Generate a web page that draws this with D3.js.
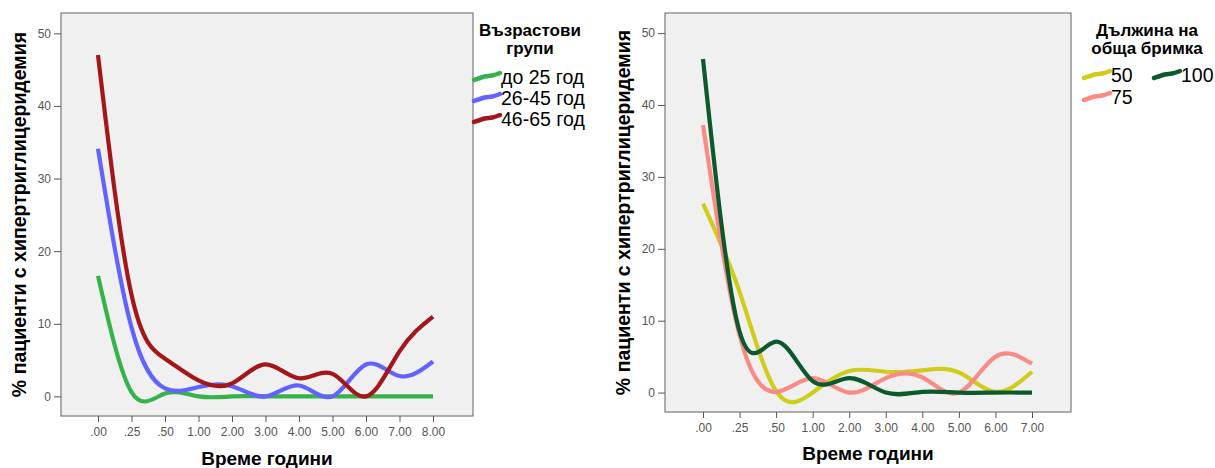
<!DOCTYPE html>
<html>
<head>
<meta charset="utf-8">
<script src="https://cdn.jsdelivr.net/npm/d3@7"></script>
<style>
  html, body { margin: 0; padding: 0; background: #ffffff; }
  svg { display: block; font-family: "Liberation Sans", Arial, sans-serif; }
</style>
</head>
<body>
<svg id="chart" width="1215" height="468"></svg>
<script>
// ---------- DATA ----------
const ageCategories = [".00", ".25", ".50", "1.00", "2.00", "3.00", "4.00", "5.00", "6.00", "7.00", "8.00"];
const ageGroupNames = ["до 25 год", "26-45 год", "46-65 год"];
const ageUpTo25  = [16.6, 0.6, 0.4, 0.0, 0.0, 0.0, 0.0, 0.0, 0.0, 0.0, 0.0];
const age26to45  = [34.1, 9.5, 1.1, 1.3, 1.4, 0.0, 1.5, 0.0, 4.4, 2.8, 4.8];
const age46to65  = [47.0, 14.0, 5.2, 2.2, 1.8, 4.4, 2.5, 3.1, 0.0, 6.2, 11.0];

const lengthCategories = [".00", ".25", ".50", "1.00", "2.00", "3.00", "4.00", "5.00", "6.00", "7.00"];
const lengthGroupNames = ["50", "75", "100"];
const length50  = [26.3, 14.0, 0.2, 0.0, 3.0, 2.9, 3.1, 2.8, 0.1, 2.9];
const length75  = [37.2, 8.0, 0.1, 2.0, 0.0, 2.0, 2.1, 0.0, 5.0, 4.0];
const length100 = [46.4, 8.5, 7.1, 1.6, 2.0, 0.0, 0.1, 0.0, 0.0, 0.0];

const yTicks = [0, 10, 20, 30, 40, 50];
const yTitle = "% пациенти с хипертриглицеридемия";
const xTitle = "Време години";
const ageLegendTitle = ["Възрастови", "групи"];
const lengthLegendTitle = ["Дължина на", "обща бримка"];

// ---------- STYLE ----------
const ageColors = ["#35b34a", "#6262ff", "#a3171b"];
const lengthColors = ["#d0cc1c", "#f98a85", "#0c5a2b"];

const svg = d3.select("#chart");

function drawPanel(cfg) {
  const g = svg.append("g");
  const x = d3.scalePoint().domain(cfg.categories)
    .range([cfg.left + cfg.padL, cfg.right - cfg.padR]);
  const y = d3.scaleLinear().domain([-2.7, 52.8]).range([cfg.bottom, cfg.top]);

  // plot background + frame
  g.append("rect")
    .attr("x", cfg.left).attr("y", cfg.top)
    .attr("width", cfg.right - cfg.left).attr("height", cfg.bottom - cfg.top)
    .attr("fill", "#f0f0f0").attr("stroke", "#7a7a7a").attr("stroke-width", 1.2);

  // y axis
  const yAxis = g.append("g").attr("transform", `translate(${cfg.left},0)`)
    .call(d3.axisLeft(y).tickValues(yTicks).tickSize(7).tickPadding(3).tickFormat(d3.format("d")));
  yAxis.select(".domain").remove();
  yAxis.selectAll("line").attr("stroke", "#555");
  yAxis.selectAll("text").attr("fill", "#555").style("font-size", "12px")
    .style("font-family", "'Liberation Sans', Arial, sans-serif");

  // x axis
  const xAxis = g.append("g").attr("transform", `translate(0,${cfg.bottom})`)
    .call(d3.axisBottom(x).tickSize(6).tickPadding(5));
  xAxis.select(".domain").remove();
  xAxis.selectAll("line").attr("stroke", "#555");
  xAxis.selectAll("text").attr("fill", "#555").style("font-size", "12px")
    .style("font-family", "'Liberation Sans', Arial, sans-serif");

  // lines
  const line = d3.line()
    .x((d, i) => x(cfg.categories[i]))
    .y(d => y(d))
    .curve(d3.curveNatural);
  cfg.series.forEach((s, k) => {
    g.append("path").datum(s)
      .attr("d", line)
      .attr("fill", "none")
      .attr("stroke", cfg.colors[k])
      .attr("stroke-width", 4.2)
      .attr("stroke-linejoin", "round");
  });

  // axis titles
  g.append("text")
    .attr("transform", `translate(${cfg.yTitleX},${(cfg.top + cfg.bottom) / 2}) rotate(-90)`)
    .attr("text-anchor", "middle").attr("dy", "0.35em")
    .style("font-size", "19.5px").style("font-weight", "bold").attr("fill", "#000")
    .text(yTitle);
  g.append("text")
    .attr("x", (cfg.left + cfg.right) / 2).attr("y", cfg.xTitleY)
    .attr("text-anchor", "middle")
    .style("font-size", "19px").style("font-weight", "bold").attr("fill", "#000")
    .text(xTitle);

  // legend
  const lg = g.append("g");
  cfg.legendTitle.forEach((t, i) => {
    lg.append("text").attr("x", cfg.legendTitleX).attr("y", cfg.legendTitleY + i * 18)
      .attr("text-anchor", "middle")
      .style("font-size", "17px").style("font-weight", "bold").attr("fill", "#000")
      .text(t);
  });
  const wave = d3.line().curve(d3.curveBasis);
  cfg.legendItems.forEach((it, k) => {
    const sx = it.x, sy = it.y;
    lg.append("path")
      .attr("d", wave([[sx, sy + 3], [sx + 6, sy + 1], [sx + 12, sy - 1], [sx + 18, sy - 1], [sx + 26, sy - 4]]))
      .attr("fill", "none").attr("stroke", cfg.colors[k]).attr("stroke-width", 4.5)
      .attr("stroke-linecap", "round");
    lg.append("text").attr("x", sx + 27).attr("y", sy).attr("dy", "0.36em")
      .style("font-size", "19.5px").attr("fill", "#000")
      .text(cfg.legendNames[k]);
  });
}

drawPanel({
  categories: ageCategories,
  series: [ageUpTo25, age26to45, age46to65],
  colors: ageColors,
  left: 61, right: 473, top: 13, bottom: 416, padL: 37, padR: 40,
  yTitleX: 19, xTitleY: 465,
  legendTitle: ageLegendTitle, legendTitleX: 530, legendTitleY: 36,
  legendNames: ageGroupNames,
  legendItems: [{x: 474, y: 77}, {x: 474, y: 98}, {x: 474, y: 119}]
});

drawPanel({
  categories: lengthCategories,
  series: [length50, length75, length100],
  colors: lengthColors,
  left: 665, right: 1071, top: 13, bottom: 412, padL: 38, padR: 39,
  yTitleX: 623, xTitleY: 460,
  legendTitle: lengthLegendTitle, legendTitleX: 1147, legendTitleY: 36,
  legendNames: lengthGroupNames,
  legendItems: [{x: 1084, y: 75}, {x: 1084, y: 97}, {x: 1154, y: 75}]
});
</script>
</body>
</html>
